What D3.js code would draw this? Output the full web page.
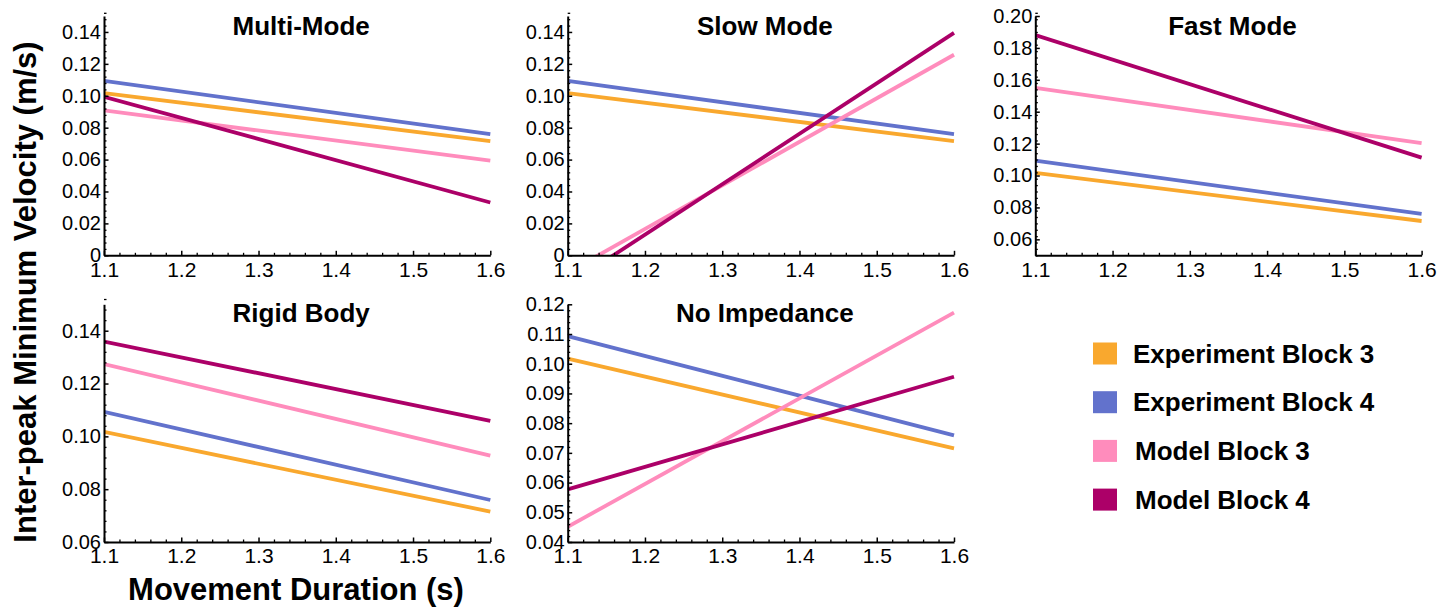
<!DOCTYPE html>
<html>
<head>
<meta charset="utf-8">
<script src="https://cdn.jsdelivr.net/npm/d3@7"></script>
<style>
  html, body { margin: 0; padding: 0; background: #fff; }
  svg { display: block; font-family: 'Liberation Sans', Arial, Helvetica, sans-serif; }
  .tick text { font-size: 21px; fill: #000; }
  .yaxis .tick text { font-size: 20px; }
  .axis path, .axis line { stroke: #000; }
</style>
</head>
<body>
<svg id="chart" width="1455" height="610"></svg>
<script>
// Movement duration range covered by every panel (s)
const durations = [1.1, 1.6];
const xTickValues = [1.1, 1.2, 1.3, 1.4, 1.5, 1.6];
const xTickLabels = ["1.1", "1.2", "1.3", "1.4", "1.5", "1.6"];

const panelTitles = ["Multi-Mode", "Slow Mode", "Fast Mode", "Rigid Body", "No Impedance"];
const seriesNames = ["Experiment Block 3", "Experiment Block 4", "Model Block 3", "Model Block 4"];
const seriesColors = ["#F9A82E", "#6272CC", "#FF8CBC", "#AC0068"];

// Inter-peak minimum velocity (m/s) at 1.1 s and 1.6 s, one pair per panel
const experimentBlock3 = [[0.1017, 0.0715], [0.1017, 0.0715], [0.1017, 0.0715], [0.1017, 0.0715], [0.1017, 0.0715]];
const experimentBlock4 = [[0.1093, 0.0759], [0.1093, 0.0759], [0.1093, 0.0759], [0.1093, 0.0759], [0.1093, 0.0759]];
const modelBlock3      = [[0.0908, 0.0593], [-0.0108, 0.1257], [0.1549, 0.1203], [0.1274, 0.0927], [0.0451, 0.1172]];
const modelBlock4      = [[0.0994, 0.0331], [-0.0187, 0.1394], [0.1881, 0.1112], [0.1359, 0.1059], [0.0577, 0.0956]];

// Vertical ranges and tick labels of each panel
const yDomains = [[0, 0.15], [0, 0.15], [0.05, 0.20], [0.06, 0.15], [0.04, 0.12]];
const yTickLabels = [
  ["0", "0.02", "0.04", "0.06", "0.08", "0.10", "0.12", "0.14"],
  ["0", "0.02", "0.04", "0.06", "0.08", "0.10", "0.12", "0.14"],
  ["0.06", "0.08", "0.10", "0.12", "0.14", "0.16", "0.18", "0.20"],
  ["0.06", "0.08", "0.10", "0.12", "0.14"],
  ["0.04", "0.05", "0.06", "0.07", "0.08", "0.09", "0.10", "0.11", "0.12"]
];
const yMinorSteps = [0.004, 0.004, 0.004, 0.004, 0.002];

const allSeries = [experimentBlock3, experimentBlock4, modelBlock3, modelBlock4];

// Plot rectangles
const colLeft = [104, 567.7, 1035.3];
const plotW = 386.3;
const rowTop = [16, 304.3];
const rowBottom = [255.3, 542];
const panelCells = [[0, 0], [1, 0], [2, 0], [0, 1], [1, 1]];

const svg = d3.select("#chart");

function range(a, b, step) {
  const out = [];
  const n = Math.round((b - a) / step);
  for (let i = 0; i <= n; i++) out.push(+(a + i * step).toFixed(6));
  return out;
}

panelTitles.forEach((title, p) => {
  const [c, r] = panelCells[p];
  const left = colLeft[c], top = rowTop[r], bottom = rowBottom[r];
  const x = d3.scaleLinear().domain(durations).range([left, left + plotW]);
  const y = d3.scaleLinear().domain(yDomains[p]).range([bottom, top]);

  const g = svg.append("g");

  const clipId = "clip" + p;
  g.append("clipPath").attr("id", clipId)
    .append("rect").attr("x", left).attr("y", top - 2)
    .attr("width", plotW + 3).attr("height", bottom - top + 2);

  // series lines
  const line = d3.line().x((d, i) => x(durations[i])).y(d => y(d));
  const lines = g.append("g").attr("clip-path", `url(#${clipId})`);
  allSeries.forEach((s, k) => {
    lines.append("path")
      .attr("d", line(s[p]))
      .attr("fill", "none")
      .attr("stroke", seriesColors[k])
      .attr("stroke-width", 3.8);
  });

  // y ticks
  const yVals = yTickLabels[p].map(Number);
  const [y0, y1] = yDomains[p];
  const yMinor = range(y0, y1, yMinorSteps[p]).filter(v => !yVals.some(m => Math.abs(m - v) < 1e-6));
  g.append("g").attr("class", "axis")
    .attr("transform", `translate(${left},0)`)
    .call(d3.axisLeft(y).tickValues(yMinor).tickFormat("").tickSizeInner(-2.5).tickSizeOuter(0))
    .call(a => a.select(".domain").remove())
    .selectAll("line").attr("stroke-width", 1.3);
  g.append("g").attr("class", "axis yaxis")
    .attr("transform", `translate(${left},0)`)
    .call(d3.axisLeft(y).tickValues(yVals).tickFormat((d, i) => yTickLabels[p][i])
      .tickSizeInner(-4.5).tickSizeOuter(0).tickPadding(3))
    .call(a => a.select(".domain").attr("stroke-width", 2))
    .call(a => a.selectAll("line").attr("stroke-width", 1.5));

  // x ticks
  const xMinor = range(1.1, 1.6, 0.02).filter(v => !xTickValues.some(m => Math.abs(m - v) < 1e-6));
  g.append("g").attr("class", "axis")
    .attr("transform", `translate(0,${bottom})`)
    .call(d3.axisBottom(x).tickValues(xMinor).tickFormat("").tickSizeInner(-2.5).tickSizeOuter(0))
    .call(a => a.select(".domain").remove())
    .selectAll("line").attr("stroke-width", 1.3);
  g.append("g").attr("class", "axis")
    .attr("transform", `translate(0,${bottom})`)
    .call(d3.axisBottom(x).tickValues(xTickValues).tickFormat((d, i) => xTickLabels[i])
      .tickSizeInner(-4.5).tickSizeOuter(0).tickPadding(r === 0 ? 7 : 6))
    .call(a => a.select(".domain").attr("stroke-width", 2))
    .call(a => a.selectAll("line").attr("stroke-width", 1.5));

  // panel title
  g.append("text")
    .attr("x", left + plotW / 2 + 4)
    .attr("y", r === 0 ? 34.5 : 321.5)
    .attr("text-anchor", "middle")
    .attr("font-size", 26)
    .attr("font-weight", "bold")
    .text(title);
});

// axis titles
svg.append("text")
  .attr("transform", "translate(36,292) rotate(-90)")
  .attr("text-anchor", "middle")
  .attr("font-size", 31)
  .attr("font-weight", "bold")
  .text("Inter-peak Minimum Velocity (m/s)");

svg.append("text")
  .attr("x", 296)
  .attr("y", 600)
  .attr("text-anchor", "middle")
  .attr("font-size", 31)
  .attr("font-weight", "bold")
  .text("Movement Duration (s)");

// legend
const legendY = d3.scalePoint().domain(seriesNames).range([353.5, 499.6]);
const legend = svg.append("g");
seriesNames.forEach((name, k) => {
  const cy = legendY(name);
  legend.append("rect")
    .attr("x", 1093).attr("y", cy - 11)
    .attr("width", 24).attr("height", 22)
    .attr("fill", seriesColors[k]);
  legend.append("text")
    .attr("x", k < 2 ? 1133 : 1135)
    .attr("y", cy + 9)
    .attr("font-size", 26)
    .attr("font-weight", "bold")
    .text(name);
});
</script>
</body>
</html>
